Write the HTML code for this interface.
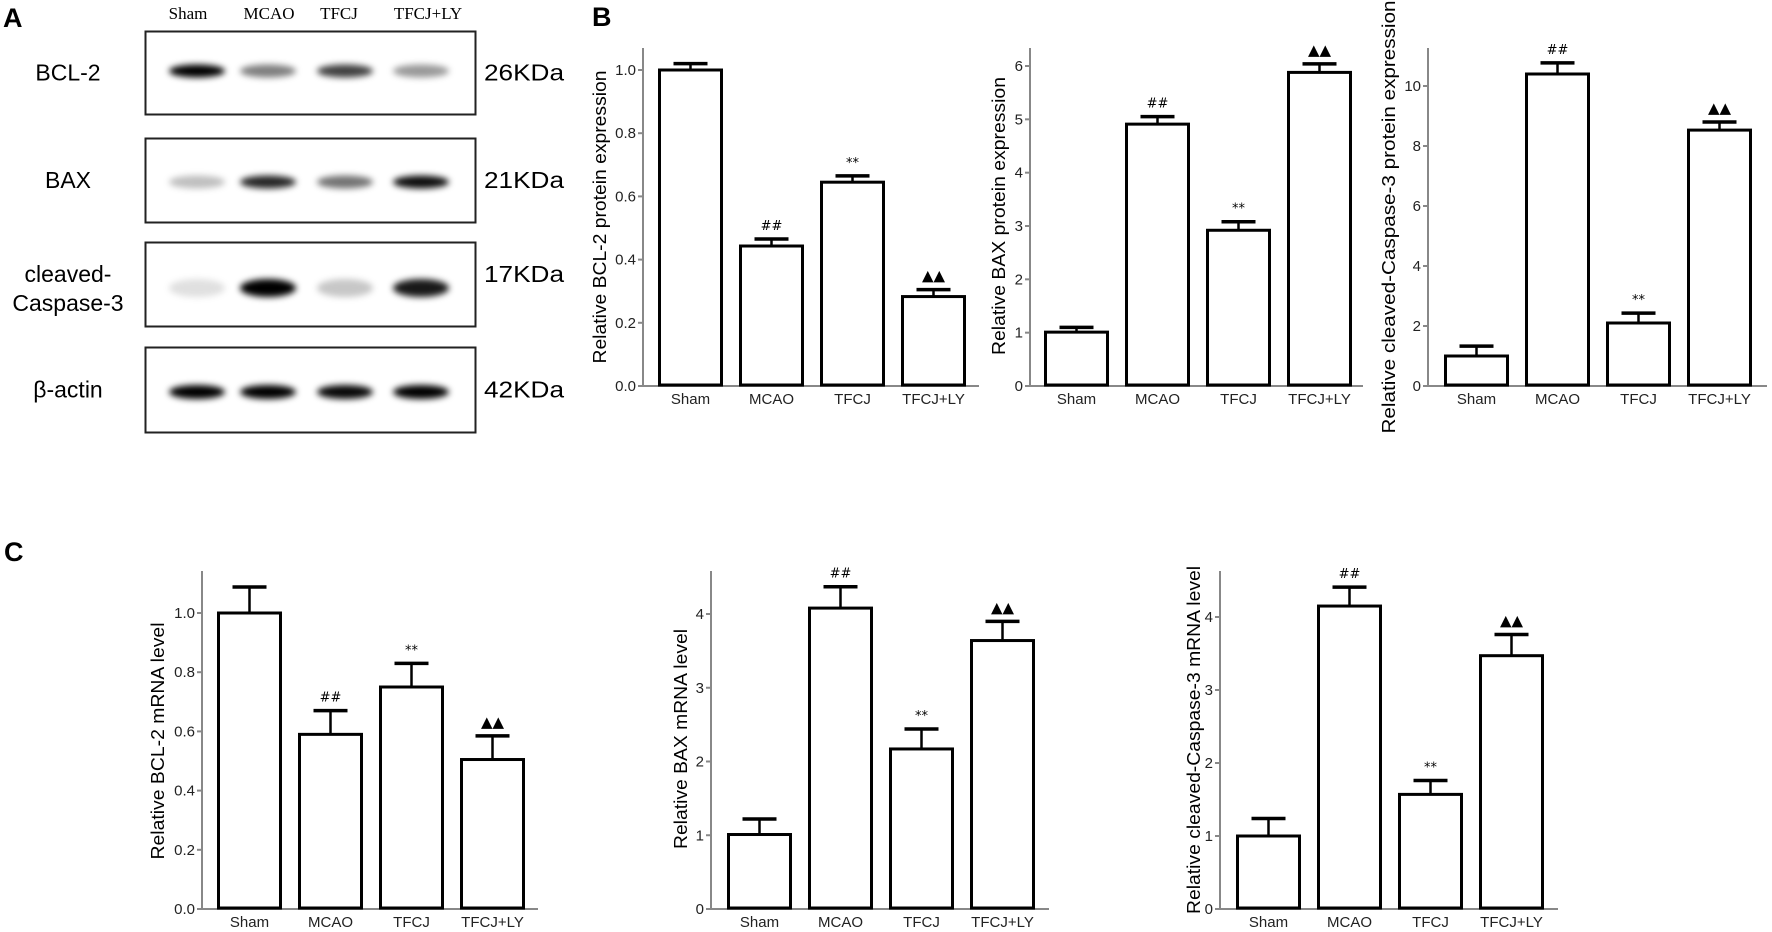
<!DOCTYPE html>
<html><head><meta charset="utf-8"><style>
html,body{margin:0;padding:0;background:#fff;}
svg{display:block;font-family:"Liberation Sans",Arial,sans-serif;}
</style></head><body>
<svg id="fig" width="1772" height="932" viewBox="0 0 1772 932" xmlns="http://www.w3.org/2000/svg">
<defs>
<filter id="blur" x="-50%" y="-100%" width="200%" height="300%"><feGaussianBlur stdDeviation="3.2"/></filter>
</defs>
<g id="panelA">
<text x="3" y="27" font-size="27" font-weight="bold">A</text>
</g>
<text x="592" y="26" font-size="27" font-weight="bold">B</text>
<text x="4" y="561" font-size="27" font-weight="bold">C</text>
<g id="charts"></g>
</svg>
<script>
const NS='http://www.w3.org/2000/svg';
function mk(tag,attrs,parent,txt){const e=document.createElementNS(NS,tag);for(const k in attrs)e.setAttribute(k,attrs[k]);if(txt!==undefined)e.textContent=txt;parent.appendChild(e);return e;}

// ---------- DATA ----------
const categories=["Sham","MCAO","TFCJ","TFCJ+LY"];
const blotProteins=["BCL-2","BAX","cleaved-Caspase-3","β-actin"];
const blotSizes=["26KDa","21KDa","17KDa","42KDa"];
const bcl2Bands=[1.0,0.5,0.75,0.4];
const baxBands=[0.25,0.85,0.55,0.95];
const caspBands=[0.12,1.0,0.22,0.9];
const actinBands=[1.0,1.0,0.97,1.0];

const b1Values=[1.0,0.443,0.645,0.283];
const b1Errors=[0.02,0.022,0.02,0.022];
const b1Ticks=["0.0","0.2","0.4","0.6","0.8","1.0"];
const b1Marks=["","##","**","▲▲"];

const b2Values=[1.01,4.91,2.92,5.88];
const b2Errors=[0.09,0.14,0.16,0.16];
const b2Ticks=["0","1","2","3","4","5","6"];
const b2Marks=["","##","**","▲▲"];

const b3Values=[1.0,10.4,2.1,8.53];
const b3Errors=[0.33,0.37,0.33,0.27];
const b3Ticks=["0","2","4","6","8","10"];
const b3Marks=["","##","**","▲▲"];

const c1Values=[1.0,0.59,0.75,0.505];
const c1Errors=[0.088,0.08,0.08,0.08];
const c1Ticks=["0.0","0.2","0.4","0.6","0.8","1.0"];
const c1Marks=["","##","**","▲▲"];

const c2Values=[1.01,4.08,2.17,3.64];
const c2Errors=[0.21,0.29,0.27,0.26];
const c2Ticks=["0","1","2","3","4"];
const c2Marks=["","##","**","▲▲"];

const c3Values=[1.0,4.15,1.57,3.47];
const c3Errors=[0.24,0.26,0.19,0.29];
const c3Ticks=["0","1","2","3","4"];
const c3Marks=["","##","**","▲▲"];

// ---------- BLOT ----------
const A=document.getElementById('panelA');
const laneX=[197,268,345,421];
const laneLabelX=[188,269,339,428];
categories.forEach((c,i)=>{
  const t=mk('text',{x:laneLabelX[i],y:19,'font-size':17,'text-anchor':'middle','font-family':'"Liberation Serif",serif'},A,c);
  
  
});
const boxes=[[31,114],[138,222],[242,326],[347,432]];
const bandSets=[bcl2Bands,baxBands,caspBands,actinBands];
const bandH=[13,13,18,14];
const bandY=[71,182,288,392];
boxes.forEach((b,r)=>{
  const g=mk('g',{},A);
  
  
  const rect=mk('rect',{x:145.5,y:b[0]+.5,width:330,height:b[1]-b[0],fill:'#fff',stroke:'#222','stroke-width':2},g);
  
  
  bandSets[r].forEach((v,i)=>{
    const e=mk('ellipse',{cx:laneX[i],cy:bandY[r],rx:28,ry:bandH[r]/2,fill:'#000','fill-opacity':v,filter:'url(#blur)'},g);
    
    
  });
  const mid=(b[0]+b[1])/2;
  let lab;
  if(r===2){
    lab=mk('text',{x:68,y:mid-2,'font-size':23,'text-anchor':'middle'},g);
    mk('tspan',{x:68,dy:0},lab,'cleaved-');
    mk('tspan',{x:68,dy:29},lab,'Caspase-3');
  } else {
    lab=mk('text',{x:68,y:mid+8,'font-size':23,'text-anchor':'middle'},g,blotProteins[r]);
  }
  
  
  const kd=mk('text',{x:484,y:(r===2?mid-2:mid+8),'font-size':23,textLength:80,lengthAdjust:'spacingAndGlyphs'},g,blotSizes[r]);
  
  
});

// ---------- CHARTS ----------
const layouts=[
 {id:'b1',ax:643,top:48,bot:386,end:979,bar0:658,pitch:81,bw:65,max:1.0,maxPx:70,title:'Relative BCL-2 protein expression',tx:600,ty:217,tl:293,vals:b1Values,errs:b1Errors,ticks:b1Ticks,marks:b1Marks,step:0.2},
 {id:'b2',ax:1030,top:48,bot:386,end:1363,bar0:1044,pitch:81,bw:65,max:6,maxPx:66,title:'Relative BAX protein expression',tx:999,ty:216,tl:278,vals:b2Values,errs:b2Errors,ticks:b2Ticks,marks:b2Marks,step:1},
 {id:'b3',ax:1428,top:48,bot:386,end:1767,bar0:1444,pitch:81,bw:65,max:10,maxPx:86,title:'Relative cleaved-Caspase-3 protein expression',tx:1389,ty:217,tl:433,vals:b3Values,errs:b3Errors,ticks:b3Ticks,marks:b3Marks,step:2},
 {id:'c1',ax:202,top:571,bot:909,end:538,bar0:217,pitch:81,bw:65,max:1.0,maxPx:613,title:'Relative BCL-2 mRNA level',tx:158,ty:741,tl:237,vals:c1Values,errs:c1Errors,ticks:c1Ticks,marks:c1Marks,step:0.2},
 {id:'c2',ax:711,top:571,bot:909,end:1049,bar0:727,pitch:81,bw:65,max:4,maxPx:614,title:'Relative BAX mRNA level',tx:681,ty:739,tl:220,vals:c2Values,errs:c2Errors,ticks:c2Ticks,marks:c2Marks,step:1},
 {id:'c3',ax:1220,top:571,bot:909,end:1558,bar0:1236,pitch:81,bw:65,max:4,maxPx:617,title:'Relative cleaved-Caspase-3 mRNA level',tx:1194,ty:740,tl:348,vals:c3Values,errs:c3Errors,ticks:c3Ticks,marks:c3Marks,step:1}
];
const root=document.getElementById('charts');
layouts.forEach(L=>{
  const g=mk('g',{},root);
  
  
  const y=v=>L.bot-(v/L.max)*(L.bot-L.maxPx);
  // y axis
  const ya=mk('line',{x1:L.ax,y1:L.top,x2:L.ax,y2:L.bot,stroke:'#888','stroke-width':2},g);
  
  
  const xa=mk('line',{x1:L.ax-5,y1:L.bot,x2:L.end,y2:L.bot,stroke:'#888','stroke-width':2},g);
  
  
  L.ticks.forEach((t,i)=>{
    const ty=y(i*L.step);
    const tk=mk('line',{x1:L.ax-5,y1:ty,x2:L.ax,y2:ty,stroke:'#888','stroke-width':2},g);
    
    
    const tl=mk('text',{x:L.ax-7,y:ty+5,'font-size':15,'text-anchor':'end',fill:'#222'},g,t);
    
    
  });
  const tt=mk('text',{x:0,y:0,'font-size':18,'text-anchor':'middle',transform:`translate(${L.tx+6},${L.ty}) rotate(-90)`,textLength:L.tl,lengthAdjust:'spacingAndGlyphs'},g,L.title);
  
  
  categories.forEach((c,i)=>{
    const x0=L.bar0+i*L.pitch, cx=x0+L.bw/2;
    const v=L.vals[i], e=L.errs[i];
    const bg=mk('g',{},g);
    
    
    const ytop=y(v+e);
    mk('line',{x1:cx,y1:y(v),x2:cx,y2:ytop,stroke:'#000','stroke-width':2.5},bg);
    mk('line',{x1:cx-17,y1:ytop,x2:cx+17,y2:ytop,stroke:'#000','stroke-width':3.5},bg);
    mk('rect',{x:x0+1.5,y:y(v),width:L.bw-3,height:L.bot-1-y(v),fill:'#fff',stroke:'#000','stroke-width':3},bg);
    if(L.marks[i]){
      const m=L.marks[i];
      const fs=m==='▲▲'?15:13;
      const mt=mk('text',{x:cx,y:ytop-9,'font-size':fs,'text-anchor':'middle','font-family':'"DejaVu Sans","Liberation Sans",sans-serif'},bg,m);
      
      
    }
    const xl=mk('text',{x:cx,y:L.bot+18,'font-size':15,'text-anchor':'middle',fill:'#222'},g,c);
    
    
  });
});
</script>
</body></html>
